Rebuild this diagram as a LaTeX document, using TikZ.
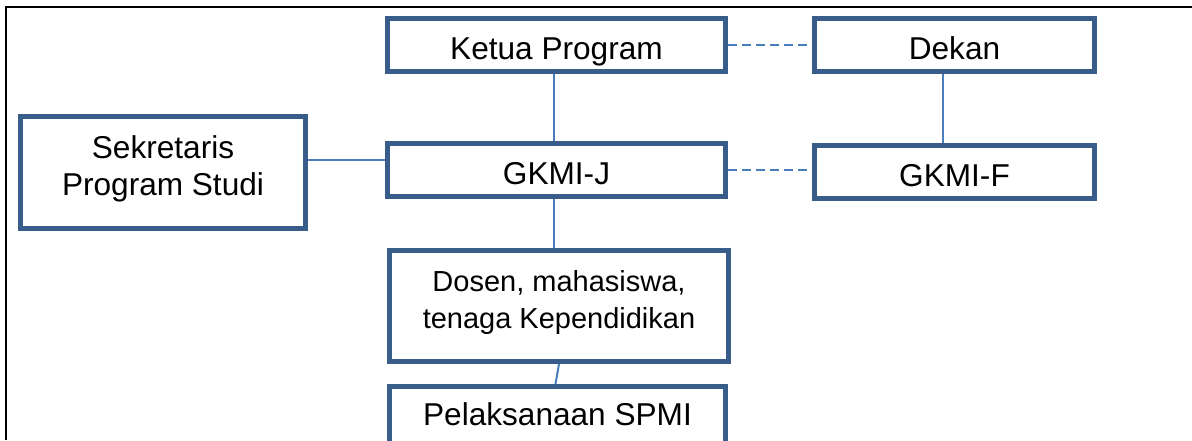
\documentclass[tikz,border=0pt]{standalone}
\usepackage{fontspec}
\setmainfont{Liberation Sans}
\definecolor{boxblue}{HTML}{385D8A}
\definecolor{lineblue}{HTML}{4A7EBB}

\begin{document}
\begin{tikzpicture}[x=0.5pt,y=-0.5pt,
    unit/.style={rectangle,draw=boxblue,line width=2.5pt,fill=white,align=center,
      inner sep=0pt,font=\fontsize{15.8}{18.5}\selectfont},
    oneline/.style={text height=14.5pt,text depth=0pt},
    twoline/.style={text height=29.5pt,text depth=7pt},
    link/.style={draw=lineblue,line width=1pt},
    dashlink/.style={link,dash pattern=on 4.5pt off 2.5pt}]
      \useasboundingbox (0,0) rectangle (1192,440);
      \draw[line width=1pt] (6,440) -- (6,7) -- (1192,7);

      \node[unit,oneline,minimum width=169pt,minimum height=26.5pt] (ketua) at (556.5,45) {Ketua Program};
      \node[unit,oneline,minimum width=140pt,minimum height=26.5pt] (dekan) at (954.5,45) {Dekan};
      \node[unit,oneline,minimum width=169pt,minimum height=26.5pt] (gkmij) at (556.5,170) {GKMI-J};
      \node[unit,oneline,minimum width=140pt,minimum height=26.5pt] (gkmif) at (954.5,171.5) {GKMI-F};
      \node[unit,twoline,minimum width=142.5pt,minimum height=56pt] (sekretaris) at (163,172.5) {Sekretaris\\Program Studi};
      \node[unit,twoline,minimum width=169.5pt,minimum height=55.5pt,
        font=\fontsize{14.5}{18.5}\selectfont] (dosen) at (559,306) {Dosen, mahasiswa,\\tenaga Kependidikan};
      \node[unit,text height=6pt,text depth=0pt,minimum width=168pt,minimum height=32.5pt] (spmi) at (557.5,419) {Pelaksanaan SPMI};

      \draw[link] ([xshift=-1.5pt]ketua.south) -- ([xshift=-1.5pt]gkmij.north);
      \draw[link] ([xshift=-5.75pt]dekan.south) -- ([xshift=-5.75pt]gkmif.north);
      \draw[link] ([yshift=6.25pt]sekretaris.east) -- ([yshift=6.25pt]sekretaris.east -| gkmij.west);
      \draw[dashlink] (ketua.east) -- (ketua.east -| dekan.west);
      \draw[dashlink] (gkmij.east) -- (gkmij.east -| gkmif.west);
      \draw[link] ([xshift=-1.5pt]gkmij.south) -- ([xshift=-1.5pt]gkmij.south |- dosen.north);
      \draw[link] (dosen.south) -- ([xshift=-1pt]spmi.north);
    \end{tikzpicture}
\end{document}
